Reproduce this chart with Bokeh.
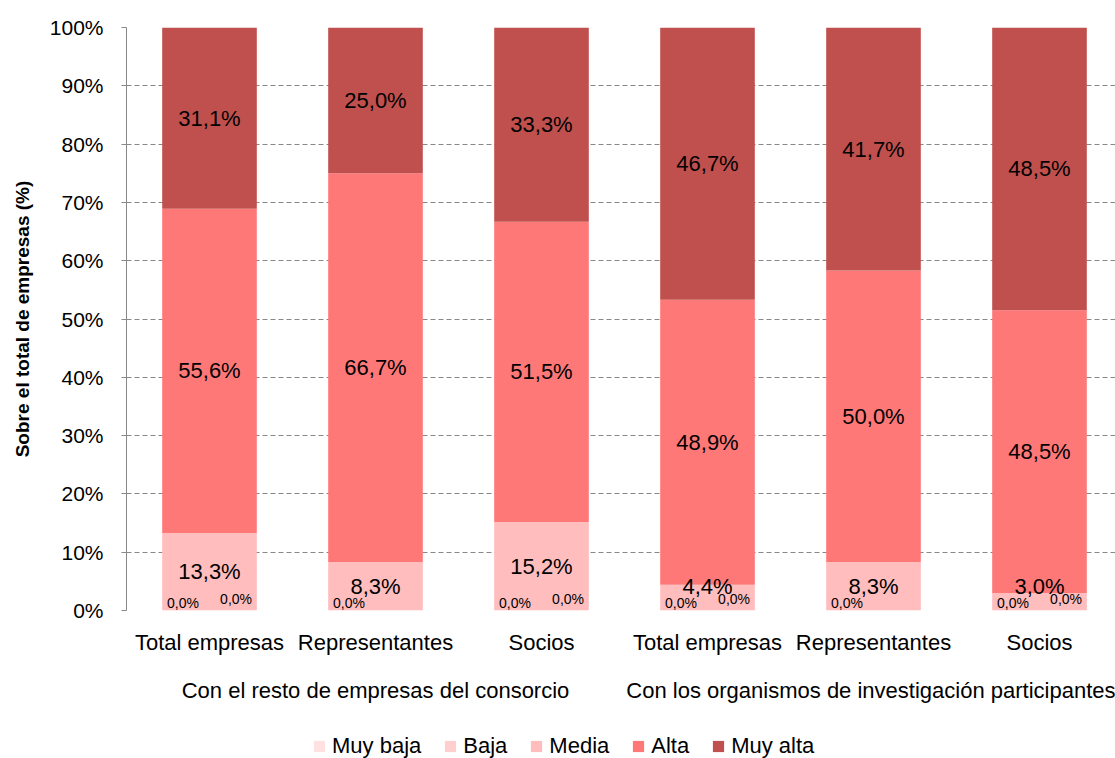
from bokeh.plotting import figure
from bokeh.layouts import column
from bokeh.models import (ColumnDataSource, Range1d, FixedTicker, LinearAxis, Legend,
                          LegendItem, LabelSet)
from bokeh.core.properties import value
from bokeh.embed import file_html
from bokeh.resources import INLINE

# ---------------- data ----------------
groups = ["Con el resto de empresas del consorcio",
          "Con los organismos de investigación participantes"]
subcats = ["Total empresas", "Representantes", "Socios",
           "Total empresas", "Representantes", "Socios"]
levels = ["Muy baja", "Baja", "Media", "Alta", "Muy alta"]
muy_baja = [0.0, 0.0, 0.0, 0.0, 0.0, 0.0]
baja = [0.0, None, 0.0, 0.0, None, 0.0]
media = [13.3, 8.3, 15.2, 4.4, 8.3, 3.0]
alta = [55.6, 66.7, 51.5, 48.9, 50.0, 48.5]
muy_alta = [31.1, 25.0, 33.3, 46.7, 41.7, 48.5]
y_ticks = [0, 10, 20, 30, 40, 50, 60, 70, 80, 90, 100]

colors = ["#FFE1E1", "#FFCFCF", "#FFBDBD", "#FF7878", "#C0504D"]
FONT = "Liberation Sans"

n = len(subcats)
xs = [i + 0.5 for i in range(n)]
b0 = [v or 0.0 for v in baja]
src = ColumnDataSource(dict(x=xs, mb=muy_baja, b=b0, m=media, a=alta, ma=muy_alta))

p = figure(frame_width=989, frame_height=583, output_backend="svg", toolbar_location=None,
           x_range=Range1d(0, 989 / 166), y_range=Range1d(0, 100),
           min_border_left=126, min_border_top=27, min_border_right=0,
           min_border_bottom=0)
p.outline_line_color = None
p.background_fill_color = "white"
p.border_fill_color = "white"

rs = p.vbar_stack(["mb", "b", "m", "a", "ma"], x="x", width=0.57, source=src,
                  color=colors, line_color=None)

# grid
p.xgrid.visible = False
p.ygrid.ticker = FixedTicker(ticks=y_ticks)
p.ygrid.grid_line_color = "#888888"
p.ygrid.grid_line_dash = "5 3"
p.ygrid.grid_line_width = 1

# y axis
yax = p.yaxis[0]
yax.ticker = FixedTicker(ticks=y_ticks)
yax.major_label_overrides = {t: f"{t}%" for t in y_ticks}
yax.axis_line_color = "#888888"
yax.major_tick_line_color = "#888888"
yax.major_tick_out = 5
yax.major_tick_in = 0
yax.minor_tick_line_color = None
yax.major_label_text_font = FONT
yax.major_label_text_font_size = "21px"
yax.major_label_text_color = "#000000"
yax.major_label_standoff = 18
yax.axis_label = "Sobre el total de empresas (%)"
yax.axis_label_text_font = FONT
yax.axis_label_text_font_size = "19px"
yax.axis_label_text_font_style = "bold"
yax.axis_label_text_color = "#000000"
yax.axis_label_standoff = 14

# x axis (subcategories)
xax = p.xaxis[0]
xax.ticker = FixedTicker(ticks=xs)
xax.major_label_overrides = {x: s for x, s in zip(xs, subcats)}
xax.axis_line_color = None
xax.major_tick_line_color = None
xax.minor_tick_line_color = None
xax.major_label_text_font = FONT
xax.major_label_text_font_size = "22px"
xax.major_label_text_color = "#000000"
xax.major_label_standoff = 13

# second x axis (groups)
gx = [1.5, 4.5]
gax = LinearAxis(ticker=FixedTicker(ticks=gx),
                 major_label_overrides={x: g for x, g in zip(gx, groups)})
gax.axis_line_color = None
gax.major_tick_line_color = None
gax.minor_tick_line_color = None
gax.major_label_text_font = FONT
gax.major_label_text_font_size = "22px"
gax.major_label_text_color = "#000000"
gax.major_label_standoff = 14
p.add_layout(gax, "below")

# data labels
def fmt(v):
    return f"{v:.1f}%".replace(".", ",")

lx, ly, lt = [], [], []
for i in range(n):
    base = (muy_baja[i] or 0) + (baja[i] or 0)
    for v in [media[i], alta[i], muy_alta[i]]:
        mid = base + v / 2
        lx.append(xs[i]); ly.append(max(mid, 4.2)); lt.append(fmt(v))
        base += v
big = ColumnDataSource(dict(x=lx, y=ly, t=lt))
p.add_layout(LabelSet(x="x", y="y", text="t", source=big, text_align="center",
                      text_baseline="middle", text_font=value(FONT),
                      text_font_size=value("22px"), text_color="#000000"))

zx, zy, zt, zo = [], [], [], []
for i in range(n):
    zx.append(xs[i] - 0.16); zy.append(muy_baja[i]); zt.append(fmt(muy_baja[i])); zo.append(0)
    if baja[i] is not None:
        zx.append(xs[i] + 0.16); zy.append(baja[i]); zt.append(fmt(baja[i])); zo.append(4)
small = ColumnDataSource(dict(x=zx, y=zy, t=zt, o=zo))
p.add_layout(LabelSet(x="x", y="y", text="t", source=small, y_offset="o",
                      text_align="center", text_baseline="bottom",
                      text_font=value(FONT), text_font_size=value("14px"),
                      text_color="#000000"))

# legend (separate strip below the chart)
p2 = figure(width=1115, height=54, output_backend="svg", toolbar_location=None,
            x_range=Range1d(0, 1), y_range=Range1d(0, 1),
            min_border_left=0, min_border_right=0, min_border_top=0,
            min_border_bottom=0)
p2.axis.visible = False
p2.grid.visible = False
p2.outline_line_color = None
hidden = ColumnDataSource(dict(x=[-5.0], top=[-5.0]))
lrs = [p2.vbar(x="x", top="top", bottom=-6.0, width=0.1, source=hidden, color=c,
               line_color=None) for c in colors]
items = [LegendItem(label=lab, renderers=[r]) for lab, r in zip(levels, lrs)]
leg = Legend(items=items, orientation="horizontal", location=(186, 0),
             label_text_font=FONT, label_text_font_size="22px",
             label_text_color="#000000", glyph_width=14, glyph_height=14,
             label_standoff=6, spacing=22, padding=0, margin=0,
             border_line_color=None, background_fill_alpha=0)
p2.add_layout(leg, "center")

layout = column(p, p2, spacing=0)
open("out.html", "w").write(file_html(layout, INLINE))
